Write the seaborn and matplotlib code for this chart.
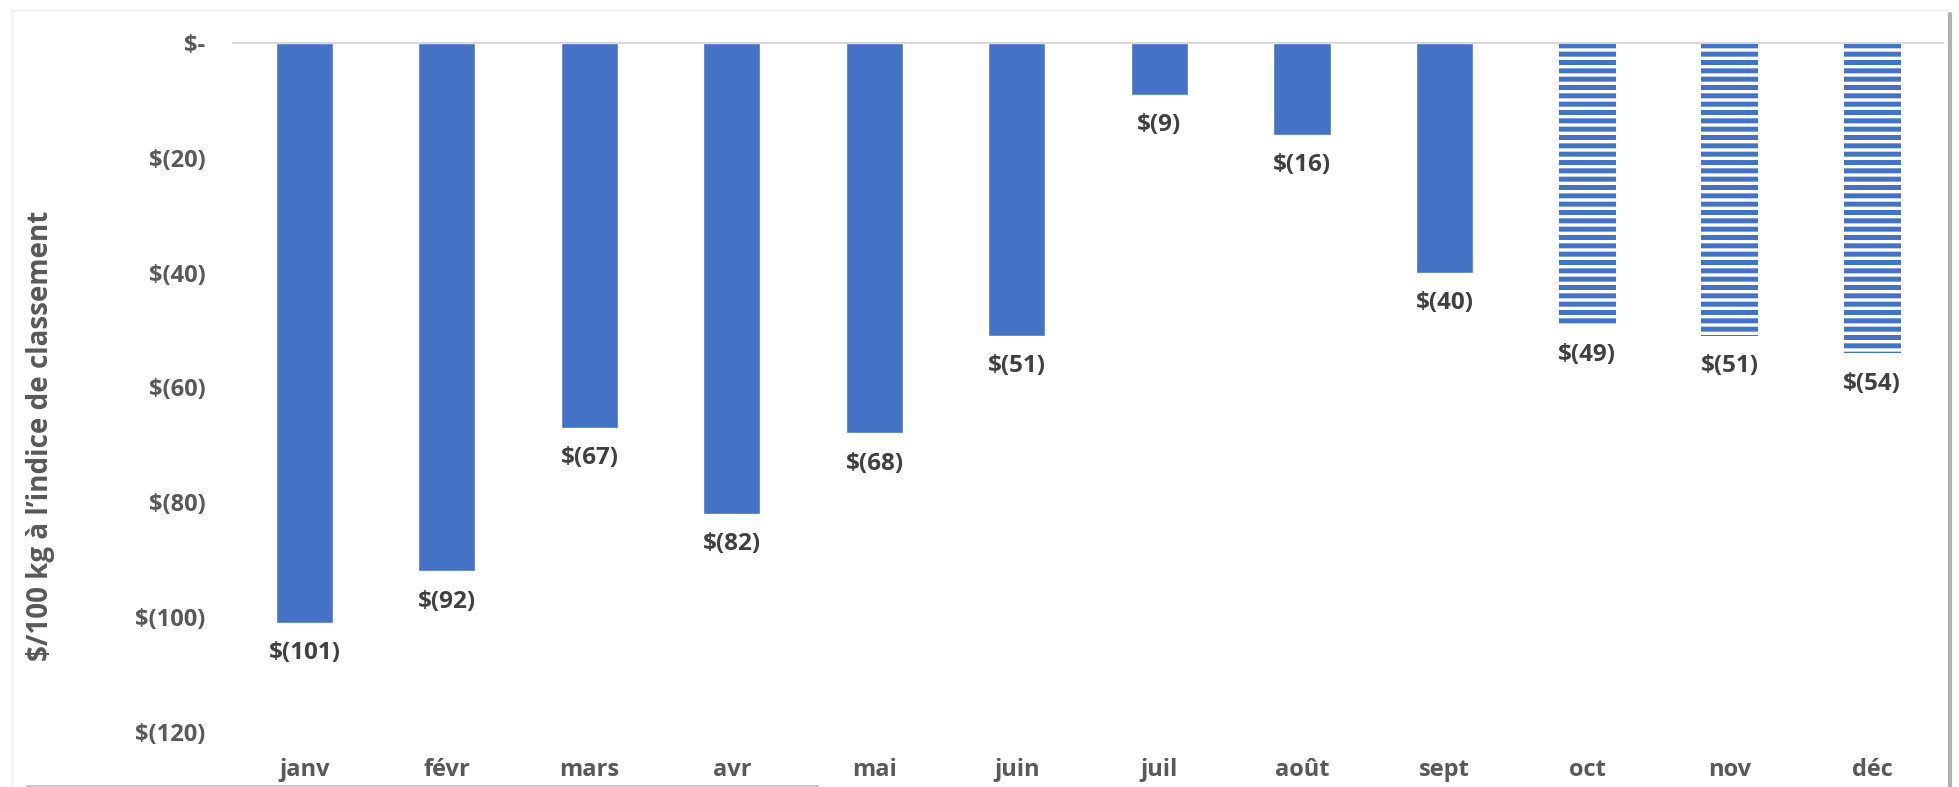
import numpy as np
import pandas as pd
import matplotlib.pyplot as plt
import seaborn as sns
from matplotlib.patches import Rectangle
from matplotlib.lines import Line2D

months = ["janv", "févr", "mars", "avr", "mai", "juin", "juil", "août", "sept", "oct", "nov", "déc"]
values = [-101, -92, -67, -82, -68, -51, -9, -16, -40, -49, -51, -54]
forecast = ["oct", "nov", "déc"]
y_ticks = [0, -20, -40, -60, -80, -100, -120]

df = pd.DataFrame({"month": months, "value": values})

blue = "#4472C4"
grey = "#595959"

sns.set_theme(style="white")
plt.rcParams["font.family"] = ["Open Sans", "DejaVu Sans"]
plt.rcParams["hatch.linewidth"] = 3.6

fig = plt.figure(figsize=(19.59, 7.87), dpi=100)
ax = fig.add_axes([0.119, 0.0699, 0.873, 0.8755])

sns.barplot(data=df, x="month", y="value", color=blue, width=0.4,
            saturation=1, ax=ax)

# hatched bars for the forecast months
for patch, m in zip(ax.patches, months):
    if m in forecast:
        patch.set_facecolor("white")
        patch.set_edgecolor(blue)
        patch.set_hatch("--")
        patch.set_linewidth(0)


def money(v):
    if v == 0:
        return "$-"
    if v < 0:
        return f"$({abs(v):.0f})"
    return f"${v:.0f}"


# data labels under each bar
for i, v in enumerate(values):
    ax.annotate(money(v), (i, v), xytext=(0, -22), textcoords="offset points",
                ha="center", va="center", fontsize=17.5, fontweight="bold",
                color="#404040")

ax.set_ylim(-120, 0)
ax.set_xlim(-0.5, 11.5)
ax.set_yticks(y_ticks)
ax.set_yticklabels([money(t) for t in y_ticks])
ax.tick_params(axis="y", length=0, pad=20, labelsize=17, labelcolor=grey)
ax.tick_params(axis="x", length=0, pad=19, labelsize=17, labelcolor=grey)
for lab in ax.get_xticklabels() + ax.get_yticklabels():
    lab.set_fontweight("bold")

ax.set_xlabel("")
ax.set_ylabel("$/100 kg à l’indice de classement", fontsize=20,
              fontweight="bold", color=grey)
ax.yaxis.set_label_coords(-0.104, 0.43)

for s in ["left", "right", "bottom"]:
    ax.spines[s].set_visible(False)
ax.spines["top"].set_color("#d9d9d9")
ax.spines["top"].set_linewidth(1.5)

# frame around the chart like the original screenshot
W, H = 1959, 787
fig.patches.append(Rectangle((12 / W, 0), 1936 / W, 1 - 10 / H,
                             transform=fig.transFigure, fill=False,
                             edgecolor="#ececec", linewidth=1))
fig.lines.append(Line2D([1950 / W, 1950 / W], [0, 1 - 14 / H],
                        transform=fig.transFigure, color="#b0b0b0", linewidth=3))
fig.lines.append(Line2D([27 / W, 818 / W], [1.5 / H, 1.5 / H],
                        transform=fig.transFigure, color="#c8c8c8", linewidth=1.5))

fig.savefig("out.png", dpi=100, facecolor="white")
